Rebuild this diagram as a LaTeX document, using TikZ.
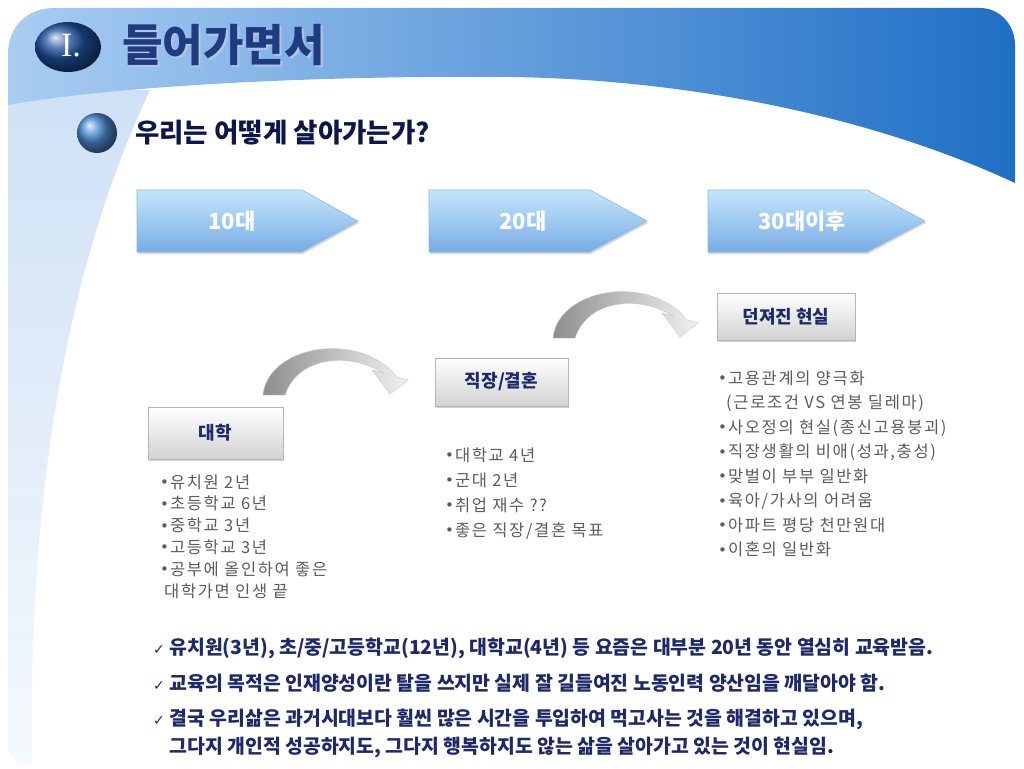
\documentclass[tikz,border=0pt]{standalone}
\usepackage{fontspec}
\setmainfont{Noto Sans CJK KR}
\newfontfamily\romanfont{Liberation Serif}
\newfontfamily\symbolfont{DejaVu Sans}
\newfontfamily\listfont[LetterSpace=10]{Noto Sans CJK KR}
\usetikzlibrary{shadows}
\definecolor{bandleft}{HTML}{A9CDF2}
\definecolor{bandmid}{HTML}{7EABE4}
\definecolor{bandright}{HTML}{1F6FC6}
\definecolor{paneltop}{HTML}{CFE1F6}
\definecolor{panelbottom}{HTML}{F5F9FD}
\definecolor{titleblue}{HTML}{1F3C82}
\definecolor{titleshade}{HTML}{B4C6DE}
\definecolor{subnavy}{HTML}{0B1748}
\definecolor{stagetop}{HTML}{C4E6FC}
\definecolor{stagebottom}{HTML}{78ACE5}
\definecolor{stageedge}{HTML}{8DB8E3}
\definecolor{boxgray}{HTML}{D2D2D2}
\definecolor{boxedge}{HTML}{B5B5B5}
\definecolor{boxnavy}{HTML}{1E2B6B}
\definecolor{bendleft}{HTML}{8E8E8E}
\definecolor{bendright}{HTML}{F2F2F2}
\definecolor{bendedge}{HTML}{C8C8C8}
\definecolor{listgray}{HTML}{5C5C5C}
\definecolor{remarknavy}{HTML}{1E2A68}
\definecolor{ballblue}{HTML}{1F52A0}
\definecolor{dotblue}{HTML}{4A8AD0}
\newcommand{\dotmark}{\raisebox{0.5pt}{\symbolfont\fontsize{15}{15}\selectfont •}\hspace{1pt}}
\newcommand{\chkmark}{{\symbolfont\mdseries\fontsize{14}{14}\selectfont ✓}\ }
\begin{document}
\begin{tikzpicture}[x=1pt,y=-1pt]
	\tikzstyle{every node}+=[inner sep=0pt]
	\tikzstyle{headline}=[anchor=west, font=\bfseries\fontsize{44}{44}\selectfont, text=titleblue]
	\tikzstyle{stage}=[font=\bfseries\fontsize{22}{22}\selectfont, text=white]
	\tikzstyle{stagearrow}=[top color=stagetop, bottom color=stagebottom, draw=stageedge, line width=0.6pt, drop shadow={opacity=0.3, shadow xshift=1pt, shadow yshift=-2pt}]
	\tikzstyle{lifebox}=[rectangle, top color=white, bottom color=boxgray, draw=boxedge, line width=0.5pt, font=\bfseries\fontsize{18}{18}\selectfont, text=boxnavy, drop shadow={opacity=0.35, shadow xshift=1pt, shadow yshift=-2pt}]
	\tikzstyle{bendarrow}=[left color=bendleft, right color=bendright, draw=bendedge, line width=0.4pt]
	\tikzstyle{facts}=[anchor=base west, align=left, text=listgray]
	\tikzstyle{remark}=[anchor=base west, align=left, font=\bfseries\fontsize{19.4}{28}\selectfont, text=remarknavy]
	\useasboundingbox (0,0) rectangle (1024,768);
	\fill [white] (0,0) rectangle (1024,768);
	\shade [top color=paneltop, bottom color=panelbottom] (8,90) -- (150,90) .. controls (70,260) and (28,480) .. (32,764) -- (28,764) .. controls (16,764) and (8,756) .. (8,744) -- cycle;
	\shade [left color=bandleft, middle color=bandmid, right color=bandright] (8,105) -- (8,55) .. controls (8,25) and (28,8) .. (55,8) -- (980,8) .. controls (1000,8) and (1015,25) .. (1015,45) -- (1015,183) .. controls (880,120) and (700,80) .. (512,77) .. controls (300,75) and (100,88) .. (8,105) -- cycle;
	\shade [ball color=ballblue] (68,47) ellipse (33 and 25);
	\node [text=white, font=\romanfont\fontsize{34}{34}\selectfont] (num) at (71,46) {I.};
	\node [headline, text=titleshade] (titleshadow) at (124,47) {들어가면서};
	\node [headline] (title) at (122,45) {들어가면서};
	\shade [ball color=dotblue] (97,133) circle (20);
	\node [anchor=west, font=\bfseries\fontsize{26.5}{26.5}\selectfont, text=subnavy] (question) at (135,133) {우리는 어떻게 살아가는가?};
	\shade [stagearrow] (137,190) -- (302,190) -- (358,221) -- (302,252) -- (137,252) -- cycle;
	\node [stage] (teens) at (232,221) {10대};
	\shade [stagearrow] (429,190) -- (590,190) -- (647,221) -- (590,252) -- (429,252) -- cycle;
	\node [stage] (twenties) at (523,221) {20대};
	\shade [stagearrow] (708,190) -- (867,190) -- (925,221) -- (867,252) -- (708,252) -- cycle;
	\node [stage] (thirties) at (802,221) {30대이후};
	\shade [bendarrow] (263,395) .. controls (268,345) and (360,330) .. (397,377) -- (408,380) -- (390,394) -- (372,370) -- (383,373) .. controls (350,352) and (298,356) .. (285,395) -- cycle;
	\begin{scope}[shift={(290,-57)}]
		\shade [bendarrow] (263,395) .. controls (268,345) and (360,330) .. (397,377) -- (408,380) -- (390,394) -- (372,370) -- (383,373) .. controls (350,352) and (298,356) .. (285,395) -- cycle;
	\end{scope}
	\node [lifebox, minimum width=135pt, minimum height=52pt] (college) at (215.5,433) {대학};
	\node [lifebox, minimum width=133pt, minimum height=48pt] (job) at (501.5,382) {직장/결혼};
	\node [lifebox, minimum width=138pt, minimum height=47pt] (reality) at (786,316.5) {던져진 현실};
	\node [facts, font=\listfont\fontsize{16.5}{21.8}\selectfont] (collegefacts) at (160,597) {\dotmark 유치원 2년\\\dotmark 초등학교 6년\\\dotmark 중학교 3년\\\dotmark 고등학교 3년\\\dotmark 공부에 올인하여 좋은\\\hspace*{4pt}대학가면 인생 끝};
	\node [facts, font=\listfont\fontsize{16.5}{25}\selectfont] (jobfacts) at (445,536) {\dotmark 대학교 4년\\\dotmark 군대 2년\\\dotmark 취업 재수 ??\\\dotmark 좋은 직장/결혼 목표};
	\node [facts, font=\listfont\fontsize{16.5}{24.5}\selectfont] (realityfacts) at (718,555.5) {\dotmark 고용관계의 양극화\\\hspace*{8pt}(근로조건 VS 연봉 딜레마)\\\dotmark 사오정의 현실(종신고용붕괴)\\\dotmark 직장생활의 비애(성과,충성)\\\dotmark 맞벌이 부부 일반화\\\dotmark 육아/가사의 어려움\\\dotmark 아파트 평당 천만원대\\\dotmark 이혼의 일반화};
	\node [remark] (remarkone) at (153,654) {\chkmark 유치원(3년), 초/중/고등학교(12년), 대학교(4년) 등 요즘은 대부분 20년 동안 열심히 교육받음.};
	\node [remark] (remarktwo) at (153,690) {\chkmark 교육의 목적은 인재양성이란 탈을 쓰지만 실제 잘 길들여진 노동인력 양산임을 깨달아야 함.};
	\node [remark] (remarkthree) at (153,753) {\chkmark 결국 우리삶은 과거시대보다 훨씬 많은 시간을 투입하여 먹고사는 것을 해결하고 있으며,\\\phantom{\chkmark}그다지 개인적 성공하지도, 그다지 행복하지도 않는 삶을 살아가고 있는 것이 현실임.};
\end{tikzpicture}
\end{document}
